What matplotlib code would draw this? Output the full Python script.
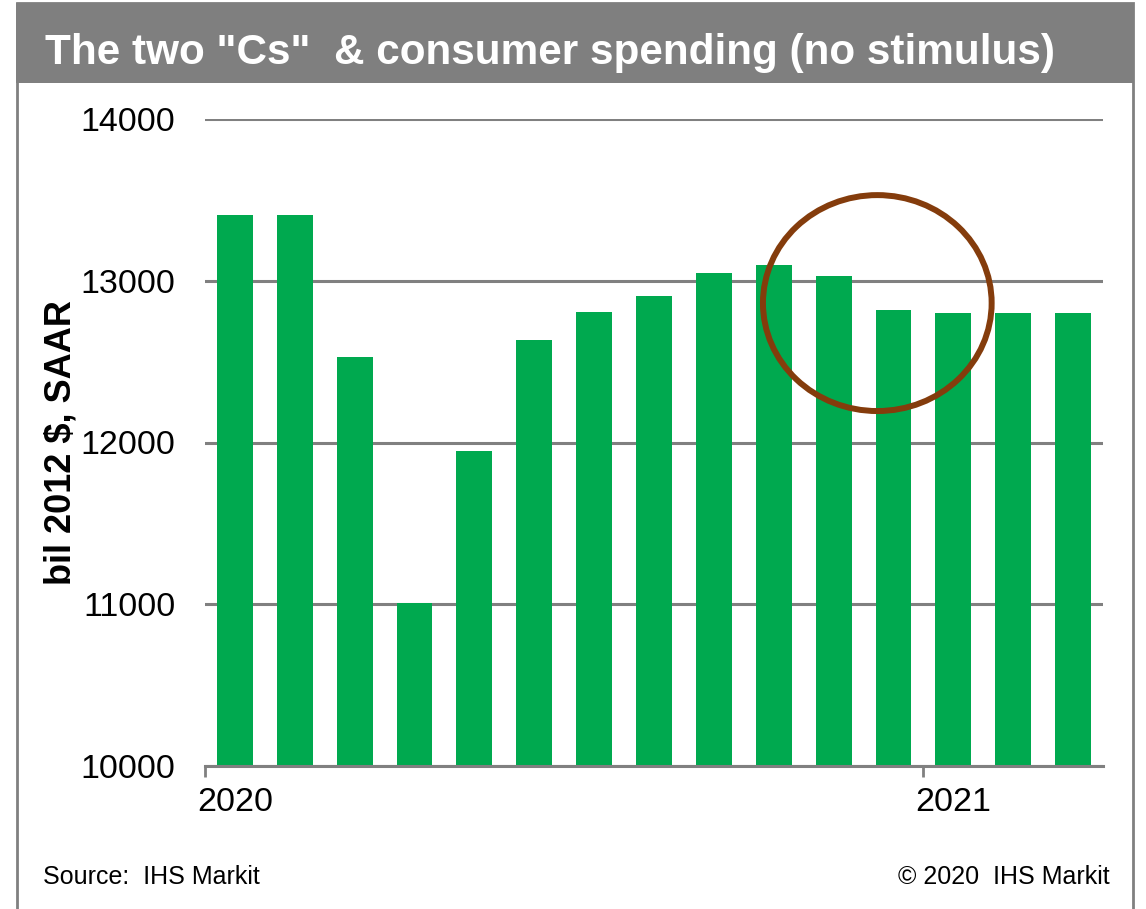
import matplotlib.pyplot as plt
from matplotlib.patches import Rectangle, Ellipse

plt.rcParams['font.family'] = ['Liberation Sans', 'DejaVu Sans']

# monthly real consumer spending, Jan 2020 .. Mar 2021
months = ["Jan 20", "Feb 20", "Mar 20", "Apr 20", "May 20", "Jun 20", "Jul 20", "Aug 20",
          "Sep 20", "Oct 20", "Nov 20", "Dec 20", "Jan 21", "Feb 21", "Mar 21"]
spending = [13405, 13405, 12530, 11005, 11945, 12635, 12805, 12905,
            13050, 13095, 13030, 12820, 12800, 12800, 12800]
year_labels = ["2020", "2021"]
year_start = [0, 12]

green = "#00A94F"
gray = "#808080"

fig = plt.figure(figsize=(11.46, 9.09), dpi=100)
W, H = 1146, 909

# outer frame and title banner
fig.patches.append(Rectangle((17 / W, -0.01), (1133 - 17) / W, 1 - 3 / H + 0.01,
                             transform=fig.transFigure, fill=False, edgecolor=gray, lw=2))
fig.patches.append(Rectangle((16 / W, 1 - 83 / H), (1134 - 16) / W, 80 / H,
                             transform=fig.transFigure, facecolor="#7F7F7F", edgecolor="none"))
fig.text(45 / W, 1 - 64 / H, 'The two "Cs"  & consumer spending (no stimulus)',
         color="white", fontsize=30.4, fontweight="bold", ha="left", va="baseline")

ax = fig.add_axes([205 / W, 1 - 766 / H, (1103 - 205) / W, (766 - 119) / H])
x = list(range(len(months)))
ax.bar(x, spending, width=0.6, color=green, zorder=3)

ax.set_ylim(10000, 14000)
ax.set_xlim(-0.5, len(months) - 0.5)
ax.set_yticks([10000, 11000, 12000, 13000, 14000])
ax.yaxis.grid(True, color=gray, lw=2.2)
ax.set_axisbelow(True)
ax.tick_params(axis="y", length=0, labelsize=24.5, pad=21.5)

ax.set_xticks([s - 0.5 for s in year_start])
ax.set_xticklabels([])
ax.set_xticks(year_start, minor=True)
ax.set_xticklabels(year_labels, minor=True)
ax.tick_params(axis="x", which="major", length=8, width=2, color=gray)
ax.tick_params(axis="x", which="minor", length=0, labelsize=24.5, pad=15)

for s in ["left", "right", "top"]:
    ax.spines[s].set_visible(False)
ax.spines["bottom"].set_color(gray)
ax.spines["bottom"].set_linewidth(2.2)
ax.spines["bottom"].set_zorder(4)

ax.set_ylabel("bil 2012 $, SAAR", fontsize=26, fontweight="bold")
ax.yaxis.set_label_coords(-0.141, 0.5)

# highlight circle around the late-2020 plateau
ax.add_patch(Ellipse((10.73, 12862), 3.82, 1335, fill=False, edgecolor="#843C0C",
                     lw=4.3, zorder=5, clip_on=False))

fig.text(43 / W, 1 - 884 / H, "Source:  IHS Markit", fontsize=18, ha="left", va="baseline")
fig.text(1110 / W, 1 - 884 / H, "\u00a9 2020  IHS Markit", fontsize=18, ha="right", va="baseline")

fig.savefig("out.png", dpi=100)
